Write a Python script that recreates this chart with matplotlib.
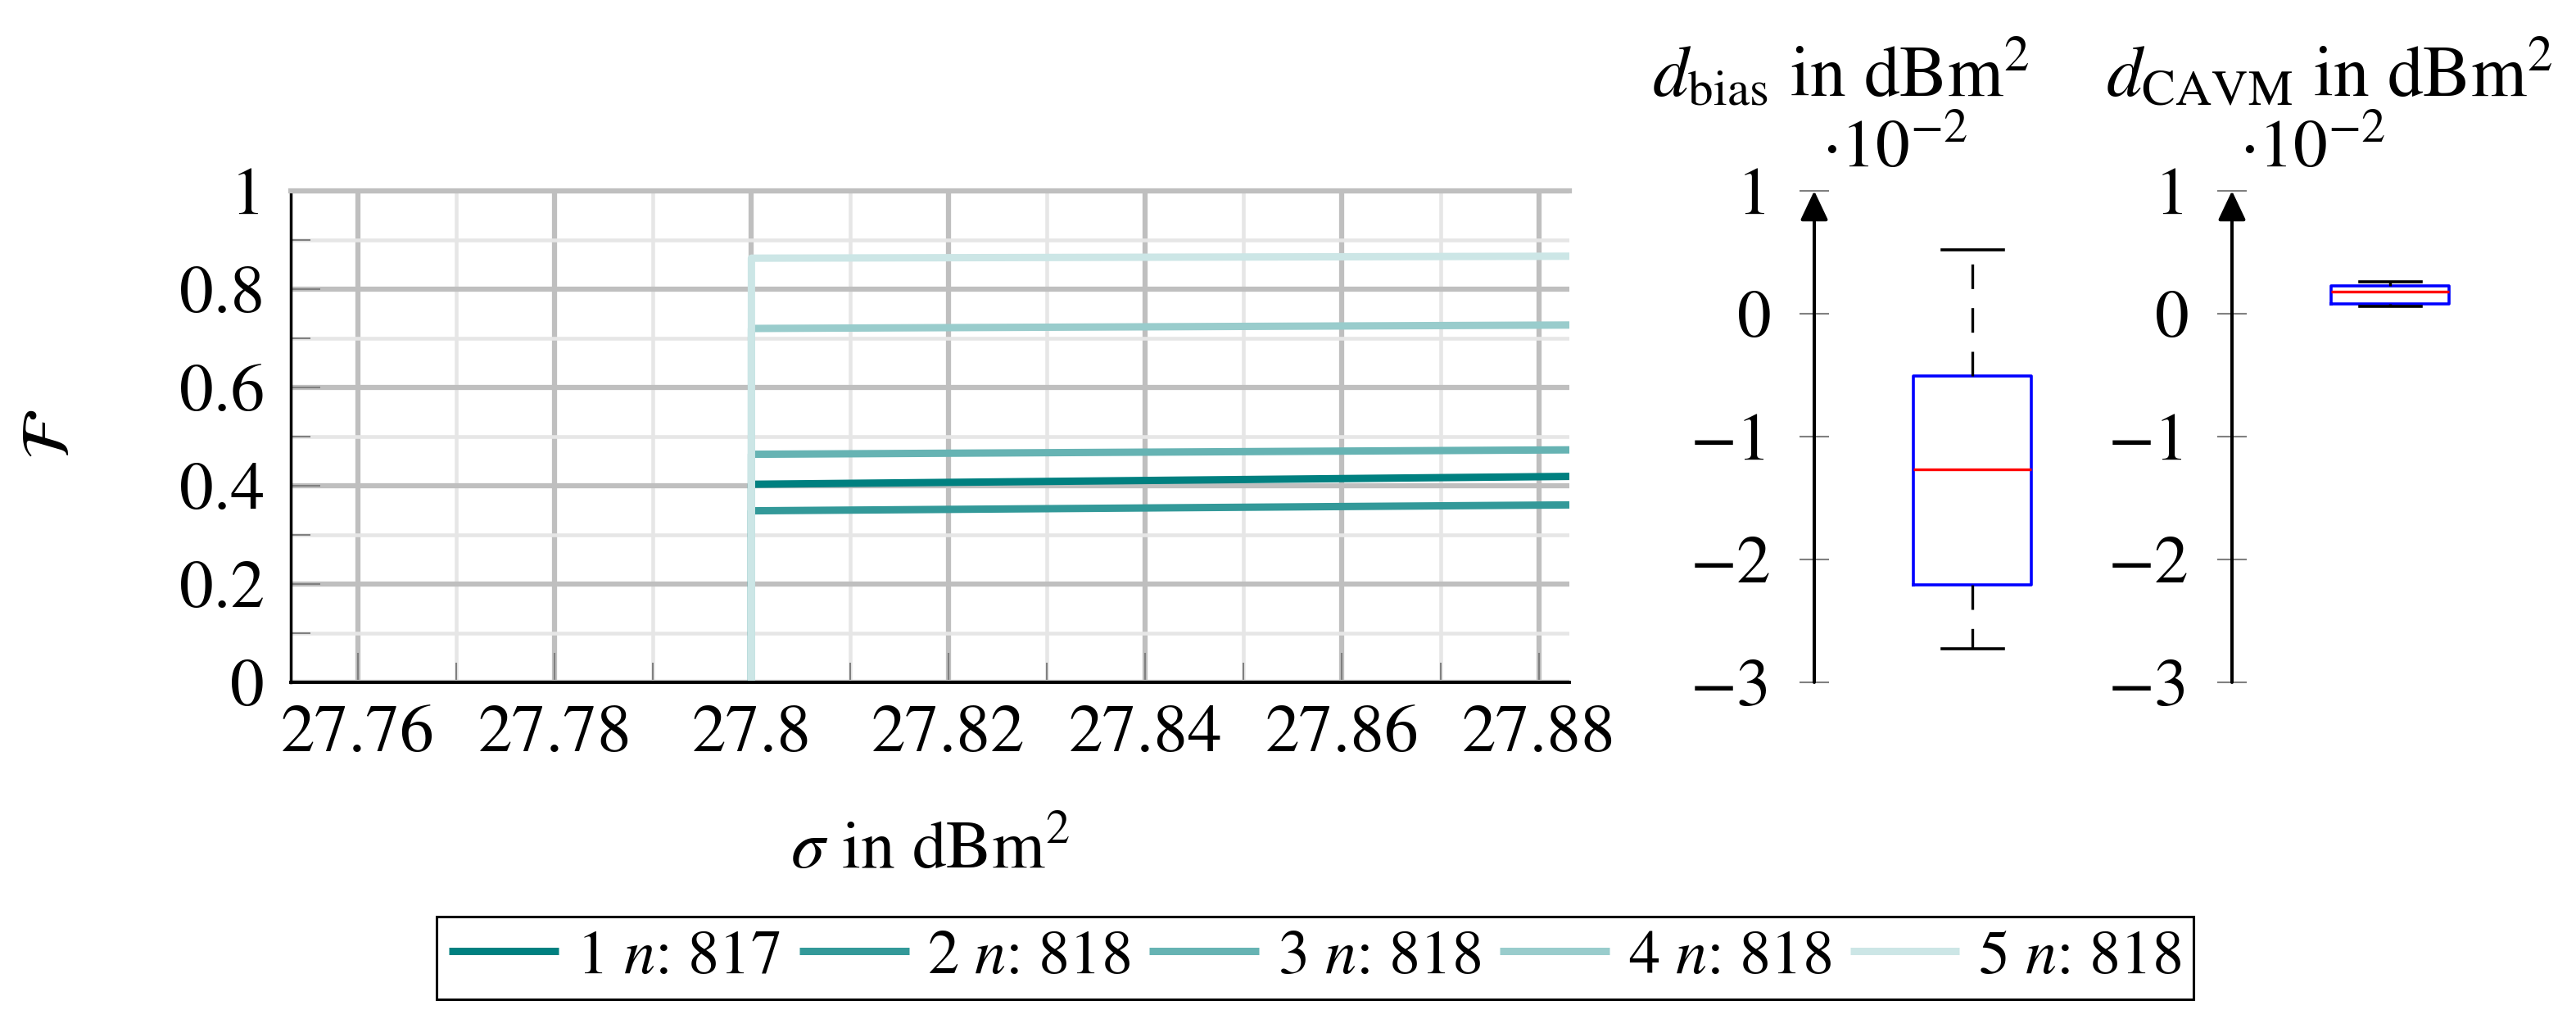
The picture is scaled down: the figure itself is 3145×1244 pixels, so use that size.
import matplotlib
matplotlib.use('Agg')
import matplotlib.pyplot as plt
from matplotlib.ticker import MultipleLocator, FuncFormatter

plt.rcParams['font.family'] = ['STIXGeneral', 'DejaVu Serif']
plt.rcParams['mathtext.fontset'] = 'stix'
plt.rcParams['font.size'] = 60

sigma_start = 27.8
sigma_end = 27.8831
group_names = ['1', '2', '3', '4', '5']
group_counts = [817, 818, 818, 818, 818]
F_start = [0.403, 0.349, 0.464, 0.720, 0.863]
F_end = [0.419, 0.361, 0.473, 0.727, 0.867]
line_colors = ['#008080', '#339999', '#66b3b3', '#99cccc', '#cce6e6']

# box plot stats in 1e-2 dBm^2: whislo, q1, med, q3, whishi
bias_stats = [-2.725, -2.209, -1.267, -0.505, 0.517]
cavm_stats = [0.058, 0.078, 0.180, 0.224, 0.260]


def fmt(v, pos):
    return f'{v:g}'.replace('-', '\u2212')


fig = plt.figure(figsize=(31.45, 12.44), dpi=100)

# main CDF axes
ax = fig.add_axes([0.11288, 0.33039, 0.49634, 0.48232])
handles = []
for name, n, y0, y1, c in zip(group_names, group_counts, F_start, F_end, line_colors):
    h, = ax.plot([sigma_start, sigma_start, sigma_end], [0, y0, y1], color=c, lw=6.5,
                 solid_capstyle='butt', label=f'{name} $n$: {n}')
    handles.append(h)

ax.set_xlim(27.7532, 27.8831)
ax.set_ylim(0, 1)
ax.xaxis.set_major_locator(MultipleLocator(0.02))
ax.xaxis.set_minor_locator(MultipleLocator(0.01))
ax.yaxis.set_major_locator(MultipleLocator(0.2))
ax.yaxis.set_minor_locator(MultipleLocator(0.1))
ax.xaxis.set_major_formatter(FuncFormatter(fmt))
ax.yaxis.set_major_formatter(FuncFormatter(fmt))
ax.set_axisbelow(True)
ax.grid(which='major', color='#bfbfbf', lw=4.5)
ax.grid(which='minor', color='#e6e6e6', lw=3.3)
ax.spines['right'].set_visible(False)
ax.spines['top'].set_color('#bfbfbf')
ax.spines['top'].set_linewidth(4.5)
ax.spines['left'].set_linewidth(2.5)
ax.spines['bottom'].set_linewidth(2.8)
ax.tick_params(which='both', direction='in', color='#808080', width=1.5, top=False, right=False)
ax.tick_params(which='major', length=26)
ax.tick_params(which='minor', length=17)
ax.tick_params(axis='y', pad=23)
ax.tick_params(axis='x', pad=20)

fig.text(0.0207, 0.574, r'$\mathcal{F}$', rotation=90, ha='center', va='center')
fig.text(0.361, 0.148, r'$\sigma$ in dBm$^2$', ha='center', va='baseline')


def draw_box(bax, stats):
    st = dict(whislo=stats[0], q1=stats[1], med=stats[2], q3=stats[3], whishi=stats[4])
    bax.bxp([st], positions=[0.644], widths=0.48, capwidths=0.25, showfliers=False,
            boxprops=dict(color='#0000ff', lw=2.6),
            medianprops=dict(color='#ff0000', lw=2.4),
            whiskerprops=dict(color='black', lw=2.4, linestyle=(0, (9, 7))),
            capprops=dict(color='black', lw=2.6))
    bax.set_xlim(0, 1)
    bax.set_ylim(-3, 1)
    for s in bax.spines.values():
        s.set_visible(False)
    bax.set_xticks([])
    bax.yaxis.set_major_locator(MultipleLocator(1))
    bax.yaxis.set_major_formatter(FuncFormatter(fmt))
    bax.tick_params(axis='y', direction='inout', length=26, width=1.5, color='#808080', pad=25)
    bax.annotate('', xy=(0, 1), xytext=(0, 0), xycoords='axes fraction',
                 arrowprops=dict(arrowstyle='-|>,head_length=0.55,head_width=0.26', lw=2.9,
                                 color='black', shrinkA=0, shrinkB=0, mutation_scale=40))
    bax.patch.set_visible(False)


bax1 = fig.add_axes([0.70429, 0.33039, 0.09539, 0.48232])
draw_box(bax1, bias_stats)
bax2 = fig.add_axes([0.86645, 0.33039, 0.09539, 0.48232])
draw_box(bax2, cavm_stats)

fig.text(0.6413, 0.9051, r'$d_{\mathrm{bias}}$ in dBm$^2$', ha='left', va='baseline', fontsize=63)
fig.text(0.8175, 0.9051, r'$d_{\mathrm{CAVM}}$ in dBm$^2$', ha='left', va='baseline', fontsize=63)
fig.text(0.7072, 0.836, r'$\cdot10^{-2}$', ha='left', va='baseline')
fig.text(0.8693, 0.836, r'$\cdot10^{-2}$', ha='left', va='baseline')

leg = fig.legend(handles=handles, loc='center', bbox_to_anchor=(0.5105, 0.0595), ncol=5,
                 frameon=True, fancybox=False, edgecolor='black', framealpha=1,
                 fontsize=55, handlelength=1.75, handletextpad=0.3, columnspacing=0.3,
                 borderpad=0.2, borderaxespad=0)
leg.get_frame().set_linewidth(2.2)

fig.savefig('out.png', dpi=100)
